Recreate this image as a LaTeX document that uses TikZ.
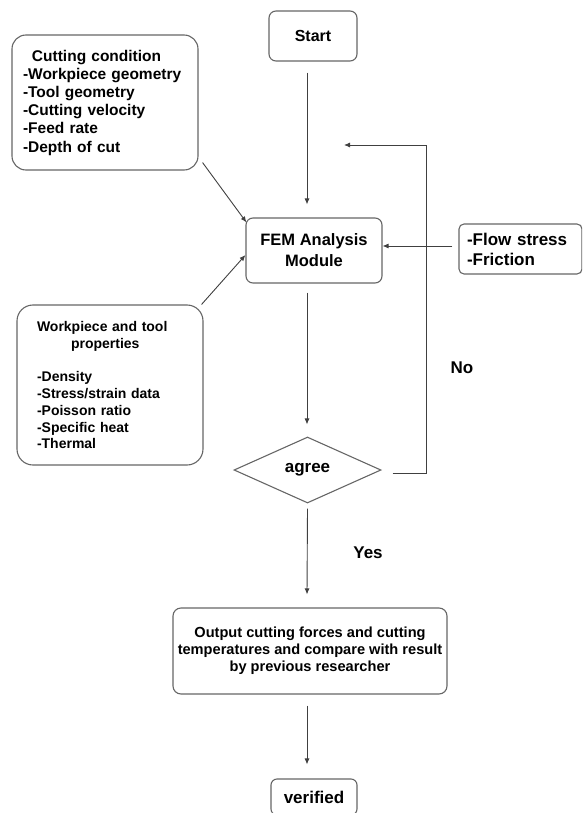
\documentclass[tikz,border=0pt]{standalone}
\usepackage{fontspec}
\setmainfont{Liberation Sans}
\usetikzlibrary{arrows.meta}
\usetikzlibrary{shapes.geometric}

\tikzset{
  box/.style={draw=black!60, line width=1.1pt, rounded corners=7pt, align=center, inner sep=0pt},
  link/.style={black!75, line width=0.9pt, -{Latex[length=6pt,width=5pt]}},
  tag/.style={font=\bfseries\fontsize{17}{20}\selectfont}
}

\begin{document}
\begin{tikzpicture}[x=1pt,y=-1pt]

\useasboundingbox (0,0) rectangle (582,813);
\clip (0,0) rectangle (582,813);

\node[box, minimum width=88pt, minimum height=50pt, font=\bfseries\fontsize{16}{20}\selectfont] (start) at (313,36) {Start};
\node[box, rounded corners=14pt, minimum width=186pt, minimum height=135pt, inner xsep=11pt, text width=164pt, align=left, font=\bfseries\fontsize{15.5}{18.2}\selectfont] (cut) at (105,102.5)
  {\hspace*{9pt}Cutting condition\\-Workpiece geometry\\-Tool geometry\\-Cutting velocity\\-Feed rate\\-Depth of cut};
\node[box, minimum width=136pt, minimum height=65pt, font=\bfseries\fontsize{16.5}{21}\selectfont] (fem) at (314,250.5) {FEM Analysis\\Module};
\node[box, rounded corners=5pt, minimum width=123pt, minimum height=50pt, inner xsep=8pt, text width=107pt, align=left, font=\bfseries\fontsize{17}{20}\selectfont] (flow) at (520.5,249) {-Flow stress\\-Friction};
\node[box, rounded corners=16pt, minimum width=186pt, minimum height=160pt, inner xsep=20pt, text width=146pt, align=left, font=\bfseries\fontsize{14}{16.8}\selectfont] (work) at (110,385)
  {Workpiece and tool\\\hspace*{34pt}properties\\[16.8pt]-Density\\-Stress/strain data\\-Poisson ratio\\-Specific heat\\-Thermal};
\node[draw=black!60, line width=1.1pt, diamond, aspect=2.2, inner sep=0pt, minimum width=147pt, minimum height=66pt, font=\bfseries\fontsize{17}{20}\selectfont] (agree) at (307.5,470) {agree};
\node[box, rounded corners=8pt, minimum width=274pt, minimum height=86pt, font=\bfseries\fontsize{14.6}{17}\selectfont] (out) at (310,651)
  {Output cutting forces and cutting\\temperatures and compare with result\\by previous researcher};
\node[box, rounded corners=6pt, minimum width=86pt, minimum height=36pt, font=\bfseries\fontsize{17}{20}\selectfont] (done) at (314,797) {verified};

\node[tag] (no) at (462,368) {No};
\node[tag] (yes) at (368,553) {Yes};

\coordinate (turn) at (426,145);
\coordinate (back) at (344,145);

\draw[link] ([xshift=-6pt,yshift=-11pt]start.south) -- ([xshift=-7pt,yshift=13pt]fem.north);
\draw[link] ([shift={(4pt,8pt)}]cut.south east) -- ([shift={(1pt,-5pt)}]fem.north west);
\draw[link] ([xshift=-2pt]work.north east) -- ([yshift=-4.5pt]fem.west);
\draw[link] ([xshift=-6pt,yshift=3pt]flow.west) -- ([yshift=4.5pt]fem.east);
\draw[link] ([xshift=-7pt,yshift=-9pt]fem.south) -- ([xshift=-0.5pt,yshift=12pt]agree.north);
\draw[link] ([xshift=11pt,yshift=-3pt]agree.east) -| (turn) -- (back);
\draw[link] ([yshift=-5pt]agree.south) -- ([xshift=-3pt,yshift=13pt]out.north);
\draw[link] ([xshift=-3pt,yshift=-11pt]out.south) -- ([xshift=-7pt,yshift=14pt]done.north);

\end{tikzpicture}
\end{document}
